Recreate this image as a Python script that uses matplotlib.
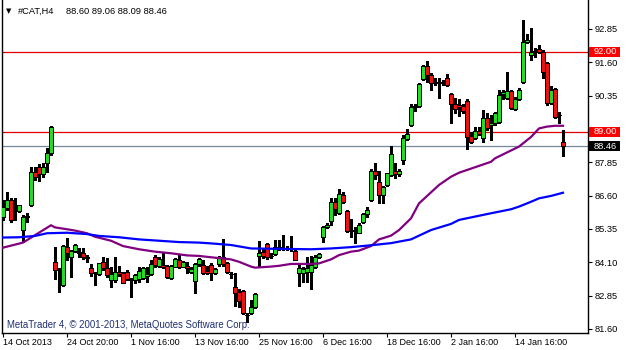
import matplotlib
matplotlib.use('Agg')
import matplotlib.pyplot as plt
import matplotlib.transforms as mtransforms
from matplotlib.patches import Rectangle
import numpy as np

plt.rcParams['font.family'] = ['Liberation Sans', 'DejaVu Sans']

# ---------------- data ----------------
symbol_name = "#CAT,H4"
last_ohlc_text = "88.60 89.06 88.09 88.46"
footer_text = "MetaTrader 4, \u00a9 2001-2013, MetaQuotes Software Corp."

opens = [85.81, 86.13, 86.44, 86.09, 86.04, 85.31, 85.84, 86.25, 87.50, 87.69,
         87.41, 87.84, 88.19, 84.13, 83.83, 83.25, 84.69, 84.29, 84.54, 84.47,
         84.44, 84.29, 83.88, 83.71, 83.66, 84.13, 83.88, 83.44, 83.44, 83.75,
         83.69, 83.75, 83.44, 83.44, 83.46, 83.50, 83.59, 83.66, 84.29, 83.96,
         84.00, 83.96, 83.50, 83.94, 84.19, 83.94, 83.96, 83.74, 83.41, 84.04,
         84.00, 83.79, 84.00, 83.71, 84.04, 84.29, 84.09, 83.67, 83.19, 83.00,
         83.04, 82.12, 82.19, 82.41, 84.34, 84.50, 84.79, 84.34, 84.41, 84.66,
         84.62, 84.63, 84.62, 84.54, 83.71, 83.71, 83.75, 83.75, 83.91, 84.29,
         85.04, 85.41, 85.66, 86.37, 85.96, 86.62, 86.04, 85.29, 85.30, 85.21,
         85.62, 85.91, 86.44, 87.54, 87.12, 86.62, 87.00, 87.37, 87.54, 87.41,
         87.94, 88.71, 89.25, 89.94, 89.96, 90.96, 91.46, 91.12, 90.87, 90.84,
         90.86, 91.00, 90.41, 90.04, 90.00, 89.96, 90.16, 88.84, 88.75, 89.04,
         88.75, 89.50, 89.25, 89.31, 89.37, 90.41, 90.25, 90.54, 89.84, 90.21,
         90.87, 92.37, 91.87, 92.00, 92.09, 92.00, 91.56, 90.09, 90.59, 89.62,
         88.60]
highs = [86.44, 86.75, 86.50, 86.50, 86.25, 85.87, 85.96, 87.69, 87.69, 87.79,
         87.81, 88.38, 89.21, 84.69, 83.88, 84.75, 85.00, 84.56, 84.79, 84.62,
         84.62, 84.37, 84.04, 83.75, 84.09, 84.31, 84.25, 83.94, 84.29, 83.96,
         83.75, 83.81, 83.50, 83.66, 83.94, 83.94, 83.94, 84.19, 84.37, 84.29,
         84.44, 84.00, 84.00, 84.25, 84.37, 84.16, 84.12, 83.94, 84.09, 84.25,
         84.19, 83.96, 84.09, 83.87, 84.34, 84.96, 84.12, 83.75, 83.69, 83.09,
         83.06, 82.21, 82.69, 82.94, 84.91, 84.64, 84.81, 84.44, 84.94, 84.94,
         85.12, 84.71, 85.09, 84.62, 83.99, 83.91, 84.31, 84.34, 84.37, 84.46,
         85.46, 85.56, 86.50, 86.50, 86.84, 86.75, 86.06, 85.71, 85.41, 85.56,
         85.96, 86.19, 87.59, 87.81, 87.54, 86.96, 87.46, 88.46, 87.81, 87.59,
         88.87, 89.09, 90.04, 90.04, 90.84, 91.50, 91.66, 91.19, 91.00, 91.00,
         90.94, 91.16, 90.44, 90.25, 90.21, 90.04, 90.21, 89.00, 89.19, 89.16,
         89.81, 89.69, 89.62, 89.75, 90.56, 90.56, 91.25, 90.56, 90.29, 90.62,
         93.19, 92.66, 92.87, 92.12, 92.25, 92.06, 91.62, 90.71, 90.62, 89.75,
         89.06]
lows = [85.69, 86.06, 85.62, 85.69, 86.00, 84.87, 85.62, 86.21, 87.19, 87.16,
        87.31, 87.50, 88.13, 83.46, 83.00, 83.21, 84.19, 83.56, 84.50, 84.29,
        84.21, 84.13, 83.59, 83.25, 83.62, 83.81, 83.56, 83.19, 83.37, 83.59,
        83.31, 83.44, 82.79, 83.31, 83.37, 83.46, 83.37, 83.62, 83.94, 83.94,
        83.87, 83.50, 83.47, 83.94, 83.87, 83.91, 83.69, 83.69, 82.96, 83.96,
        83.66, 83.66, 83.44, 83.66, 83.96, 83.96, 83.69, 83.50, 82.46, 82.44,
        82.16, 81.87, 82.16, 82.37, 83.96, 84.26, 84.21, 84.25, 84.37, 84.56,
        84.56, 84.56, 84.54, 84.19, 83.21, 83.37, 83.37, 83.09, 83.87, 84.25,
        84.87, 85.37, 85.50, 85.87, 85.91, 86.31, 85.25, 85.04, 84.81, 85.19,
        85.59, 85.81, 86.41, 87.21, 86.34, 86.34, 86.96, 87.34, 87.25, 87.34,
        87.79, 88.69, 89.21, 89.79, 89.94, 90.94, 90.87, 90.56, 90.75, 90.25,
        90.75, 90.71, 89.31, 89.71, 89.59, 89.71, 88.34, 88.59, 88.71, 88.87,
        88.62, 89.06, 88.69, 89.25, 89.34, 90.21, 90.21, 89.84, 89.81, 90.19,
        90.84, 92.31, 91.69, 91.81, 91.94, 91.00, 90.00, 90.04, 89.50, 89.31,
        88.09]
closes = [86.19, 86.44, 85.69, 86.06, 86.25, 85.81, 85.81, 87.50, 87.29, 87.41,
          87.66, 88.19, 89.16, 83.81, 83.81, 84.71, 84.46, 84.54, 84.74, 84.46,
          84.29, 84.28, 83.71, 83.72, 84.06, 83.88, 83.62, 83.66, 83.75, 83.66,
          83.34, 83.46, 83.45, 83.62, 83.79, 83.87, 83.66, 84.04, 84.00, 84.21,
          83.91, 83.54, 83.96, 84.21, 83.91, 84.11, 83.87, 83.86, 84.04, 84.21,
          83.69, 83.71, 83.71, 83.84, 84.25, 84.04, 83.75, 83.66, 82.96, 82.66,
          82.19, 82.14, 82.44, 82.91, 84.46, 84.34, 84.29, 84.33, 84.66, 84.67,
          84.63, 84.62, 84.63, 84.19, 83.87, 83.84, 83.87, 84.00, 84.29, 84.41,
          85.41, 85.50, 86.37, 86.09, 86.66, 86.37, 85.29, 85.30, 85.29, 85.50,
          85.91, 86.06, 87.54, 87.37, 86.62, 86.91, 87.44, 88.16, 87.41, 87.54,
          88.75, 88.91, 89.91, 89.95, 90.79, 91.46, 91.12, 90.84, 90.86, 90.83,
          90.87, 90.75, 90.04, 89.84, 89.91, 89.79, 88.81, 88.62, 89.04, 88.91,
          89.50, 89.12, 89.34, 89.69, 90.37, 90.50, 90.54, 89.87, 90.21, 90.56,
          92.37, 92.44, 92.00, 92.01, 92.00, 91.25, 90.06, 90.56, 89.56, 89.63,
          88.46]

# moving averages (bar index, value)
ma_purple_idx = [0, 5, 12, 13, 16, 18, 21, 23, 27, 30, 34, 38, 42, 46, 49, 52,
                 57, 59, 62, 63, 67, 69, 72, 77, 79, 82, 84, 87, 89, 92, 94, 97,
                 99, 102, 104, 109, 112, 114, 122, 123, 129, 132, 134, 136, 138, 140]
ma_purple_val = [84.65, 84.84, 85.49, 85.41, 85.34, 85.29, 85.19, 85.06, 84.91,
                 84.71, 84.59, 84.50, 84.44, 84.36, 84.34, 84.29, 84.21, 84.12,
                 83.94, 83.90, 83.94, 83.97, 84.04, 84.04, 84.06, 84.21, 84.37,
                 84.50, 84.54, 84.71, 84.96, 85.10, 85.31, 85.75, 86.31, 87.00,
                 87.31, 87.46, 87.87, 88.00, 88.44, 88.80, 89.12, 89.19, 89.22, 89.22]
ma_blue_idx = [0, 4, 8, 11, 16, 21, 24, 29, 34, 39, 44, 49, 52, 57, 62, 67, 72,
               77, 82, 87, 92, 97, 102, 107, 112, 114, 122, 127, 129, 132, 134, 137, 140]
ma_blue_val = [85.03, 85.04, 85.09, 85.19, 85.21, 85.16, 85.09, 85.04, 84.96,
               84.91, 84.86, 84.84, 84.81, 84.75, 84.62, 84.61, 84.60, 84.59,
               84.62, 84.67, 84.74, 84.82, 84.96, 85.31, 85.54, 85.69, 85.94,
               86.09, 86.19, 86.37, 86.50, 86.59, 86.71]

xtick_pos = [0, 16, 32, 48, 64, 80, 96, 112, 128]
xtick_labels = ["14 Oct 2013", "24 Oct 20:00", "1 Nov 16:00", "13 Nov 16:00",
                "25 Nov 16:00", "6 Dec 16:00", "18 Dec 16:00", "2 Jan 16:00",
                "14 Jan 16:00"]
ytick_vals = [81.60, 82.85, 84.10, 85.35, 86.60, 87.85, 89.10, 90.35, 91.60, 92.85]
level_lines = [92.00, 89.00]
bid_price = 88.46

# ---------------- figure ----------------
W, H = 628, 350
fig = plt.figure(figsize=(W / 100, H / 100), dpi=100)
fig.patch.set_facecolor('white')
ax = fig.add_axes([2 / W, 17 / H, 586 / W, 333 / H])
ax.set_facecolor('white')

n = len(opens)
x = np.arange(n)
o = np.array(opens); c = np.array(closes)
hi = np.array(highs); lo = np.array(lows)

ax.set_xlim(-0.25, -0.25 + 586 / 4)
ax.set_ylim(81.45, 93.937)

# level lines
for lv in level_lines:
    ax.axhline(lv, color='#E00000', lw=0.9, zorder=1)
ax.axhline(bid_price, color='#778899', lw=0.9, zorder=1)

# candles
ax.vlines(x, lo, hi, colors='black', linewidth=0.75, zorder=2, antialiased=False)
bull = c >= o
cols = np.where(bull, '#22DD22', '#EE1111')
ax.bar(x, np.abs(c - o), bottom=np.minimum(o, c), width=0.8, color=cols,
       edgecolor='black', linewidth=0.5, zorder=3, antialiased=False)

# moving averages
ax.plot(ma_purple_idx, ma_purple_val, color='#800080', lw=1.6, zorder=4)
ax.plot(ma_blue_idx, ma_blue_val, color='#0000FF', lw=1.6, zorder=4)

# spines
for s in ['left', 'right', 'bottom']:
    ax.spines[s].set_color('black')
    ax.spines[s].set_linewidth(1.0)
ax.spines['top'].set_visible(False)

# y axis on right (89.10 is covered by the 89.00 level label)
ax.yaxis.tick_right()
ax.set_yticks(ytick_vals)
ax.set_yticklabels(["" if abs(v - 89.10) < 1e-6 else f"{v:.2f}" for v in ytick_vals])
ax.tick_params(axis='y', direction='out', length=3, width=0.8, pad=2,
               labelsize=6.7, colors='black')

# x axis
ax.set_xticks(xtick_pos)
ax.set_xticklabels(xtick_labels)
ax.tick_params(axis='x', direction='out', length=3, width=0.8, pad=0.8,
               labelsize=6.5, colors='black')
for lab in ax.get_xticklabels():
    lab.set_horizontalalignment('left')

# price labels on the right scale
tr = mtransforms.blended_transform_factory(ax.transAxes, ax.transData)
box_w = 31 / 586
box_h = 10 / 26.667
for val, fc in [(92.00, '#FF0000'), (89.00, '#FF0000'), (bid_price, '#000000')]:
    ax.add_patch(Rectangle((1 + 1 / 586, val - box_h / 2), box_w, box_h,
                           transform=tr, facecolor=fc, edgecolor='none',
                           clip_on=False, zorder=10))
    ax.text(1 + 6 / 586, val, f"{val:.2f}", transform=tr, color='white',
            fontsize=6.7, ha='left', va='center', zorder=11, clip_on=False)

# header and footer
fig.text(9 / W, 1 - 11 / H, "\u25bc", fontsize=5, family='DejaVu Sans',
         ha='center', va='center', color='black')
fig.text(18 / W, 1 - 11 / H, symbol_name, fontsize=6.7, ha='left',
         va='center', color='black')
fig.text(66 / W, 1 - 11 / H, last_ohlc_text, fontsize=6.7, ha='left',
         va='center', color='black')
fig.text(7 / W, 1 - 325 / H, footer_text, fontsize=6.9, ha='left',
         va='center', color='#1F2F70')

fig.savefig('out.png', dpi=100, facecolor='white')
